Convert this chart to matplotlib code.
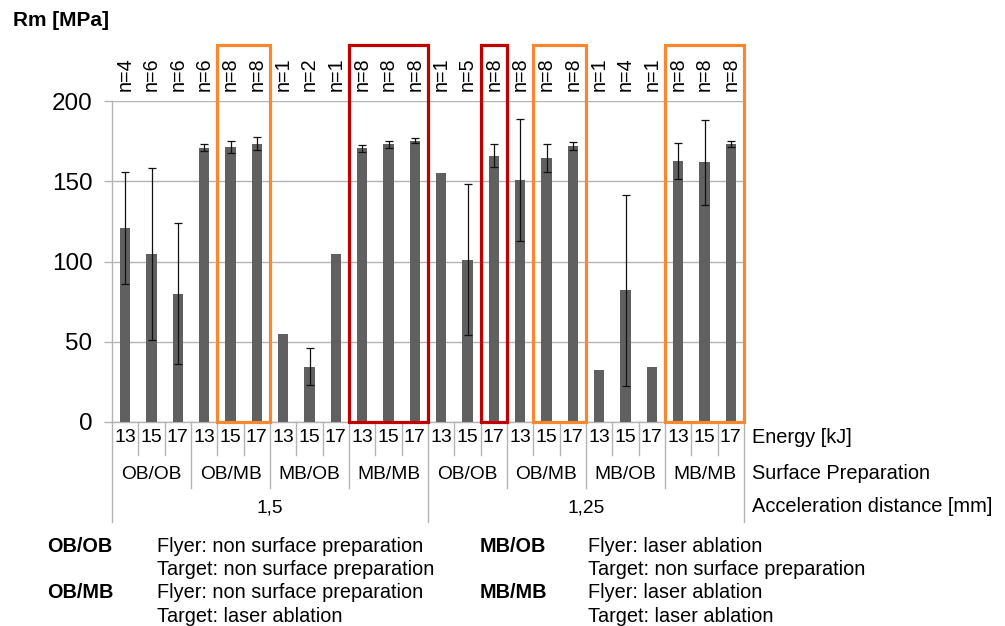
import matplotlib
matplotlib.use("Agg")
import matplotlib.pyplot as plt
import matplotlib.transforms as mtransforms
from matplotlib.patches import Rectangle
import numpy as np

plt.rcParams["font.family"] = ["Liberation Sans", "DejaVu Sans"]

# Tensile strength per test series
distances = ["1,5", "1,25"]
surfaces = ["OB/OB", "OB/MB", "MB/OB", "MB/MB"]
energies = ["13", "15", "17"]

rm_mean = [121, 104.5, 80, 171, 171.5, 173.5, 55, 34.5, 104.7, 170.5, 173, 175.3,
           155.3, 101, 166, 151, 164.3, 172, 32.6, 82.2, 34, 162.8, 161.8, 173.3]
rm_err = [35, 53.7, 44, 2, 3.7, 4, 0, 11.5, 0, 2, 2, 1.5,
          0, 47, 7.3, 38, 8.8, 2.3, 0, 59.5, 0, 11.2, 26.6, 2]
n_samples = [4, 6, 6, 6, 8, 8, 1, 2, 1, 8, 8, 8,
             1, 5, 8, 8, 8, 8, 1, 4, 1, 8, 8, 8]

# highlighted series: (first bar, last bar, colour)
highlights = [(4, 5, "#F7882F"), (9, 11, "#C00000"), (14, 14, "#C00000"),
              (16, 17, "#F7882F"), (21, 23, "#F7882F")]

legend_rows = [
    ("OB/OB", "Flyer: non surface preparation", "Target: non surface preparation"),
    ("OB/MB", "Flyer: non surface preparation", "Target: laser ablation"),
    ("MB/OB", "Flyer: laser ablation", "Target: non surface preparation"),
    ("MB/MB", "Flyer: laser ablation", "Target: laser ablation"),
]

grid_col = "#b4b4b4"
bar_col = "#606060"

fig = plt.figure(figsize=(10.05, 6.26), dpi=100)
ax = fig.add_axes([112 / 1005, 1 - 422 / 626, 632 / 1005, 321 / 626])

x = np.arange(len(rm_mean))
ax.bar(x, rm_mean, width=0.4, color=bar_col, zorder=3)
has_err = np.array(n_samples) > 1
ax.errorbar(x[has_err], np.array(rm_mean)[has_err], yerr=np.array(rm_err)[has_err],
            fmt="none", ecolor="#111111", elinewidth=0.9, capsize=3, capthick=0.9, zorder=4)

ax.set_xlim(-0.5, len(rm_mean) - 0.5)
ax.set_ylim(0, 200)
ax.set_yticks([0, 50, 100, 150, 200])
ax.tick_params(axis="y", labelsize=17.5, length=6, color=grid_col, pad=8, width=1)
ax.set_xticks([])
ax.grid(axis="y", color=grid_col, lw=1, zorder=0)
for s in ["top", "right"]:
    ax.spines[s].set_visible(False)
for s in ["left", "bottom"]:
    ax.spines[s].set_color(grid_col)
    ax.spines[s].set_linewidth(1)

trans = mtransforms.blended_transform_factory(ax.transData, ax.transAxes)

# sample counts above each bar
for i, n in enumerate(n_samples):
    ax.text(i, 1.03, f"n={n}", rotation=90, ha="center", va="bottom",
            fontsize=14.2, transform=trans)

# highlight frames
for first, last, col in highlights:
    ax.add_patch(Rectangle((first - 0.5, 0), last - first + 1, 1.1745, transform=trans,
                           fill=False, edgecolor=col, lw=2.3, clip_on=False, zorder=5))

# category axis with three levels
for b in range(len(rm_mean) + 1):
    if b % 12 == 0:
        y_end = -0.3115
    elif b % 3 == 0:
        y_end = -0.2056
    else:
        y_end = -0.1028
    ax.plot([b - 0.5, b - 0.5], [0, y_end], color=grid_col, lw=1, transform=trans,
            clip_on=False)

for i in range(len(rm_mean)):
    ax.text(i, -0.047, energies[i % 3], ha="center", va="center", fontsize=14,
            transform=trans)
for g in range(len(rm_mean) // 3):
    ax.text(g * 3 + 1, -0.165, surfaces[g % 4], ha="center", va="center",
            fontsize=13.8, transform=trans)
for d, lab in enumerate(distances):
    ax.text(d * 12 + 5.5, -0.268, lab, ha="center", va="center", fontsize=13.8,
            transform=trans)

level_names = [("Energy [kJ]", -0.047), ("Surface Preparation", -0.159),
               ("Acceleration distance [mm]", -0.262)]
for lab, yy in level_names:
    ax.text(1.0127, yy, lab, ha="left", va="center", fontsize=14.4,
            transform=ax.transAxes)

fig.text(13 / 1005, 1 - 20 / 626, "Rm [MPa]", fontsize=15, fontweight="bold",
         ha="left", va="center")

# legend of surface preparation codes
cols_x = [(47, 157), (480, 588)]
for k, (code, flyer, target) in enumerate(legend_rows):
    cx, tx = cols_x[k // 2]
    y0 = 546 + (k % 2) * 47
    fig.text(cx / 1005, 1 - y0 / 626, code, fontsize=14.3, fontweight="bold",
             ha="left", va="center")
    fig.text(tx / 1005, 1 - y0 / 626, flyer, fontsize=14.3, ha="left", va="center")
    fig.text(tx / 1005, 1 - (y0 + 23.5) / 626, target, fontsize=14.3, ha="left",
             va="center")

fig.savefig("out.png", dpi=100)
